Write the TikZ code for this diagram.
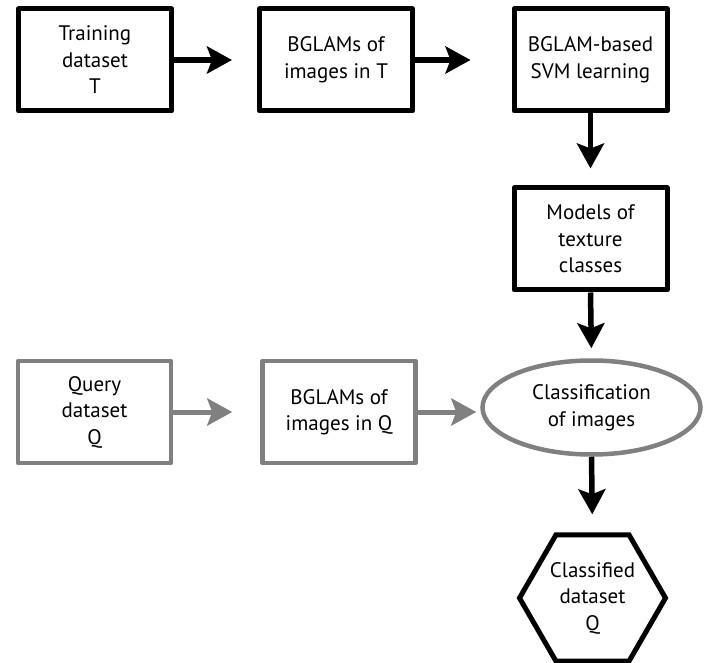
\documentclass[tikz,border=0pt]{standalone}
\usepackage{fontspec}
\setmainfont{PT Sans}
\usetikzlibrary{shapes.geometric,arrows.meta}
\definecolor{gr}{HTML}{808080}
\tikzset{
  x=1pt,y=-1pt,
  txt/.style={font=\fontsize{21}{26.5}\selectfont, align=center, text=black},
  bx/.style={txt, draw, line width=5pt, line join=round, rectangle, minimum width=153pt, minimum height=102pt, inner sep=0pt},
  gbx/.style={bx, draw=gr, line width=4.5pt},
  ar/.style={line width=5.5pt, -{Stealth[length=25pt,width=27pt,inset=5pt]}},
  gar/.style={ar, draw=gr, line width=5pt}
}
\begin{document}
\begin{tikzpicture}
\useasboundingbox (0,0) rectangle (710,663);
\node[bx] (train) at (95,60) {Training\\dataset\\T};
\node[bx] (bglT) at (336,60) {BGLAMs of\\images in T};
\node[bx] (svm) at (590.5,60) {BGLAM-based\\SVM learning};
\node[bx] (models) at (590.5,239) {Models of\\texture\\classes};
\node[gbx] (query) at (94.5,412) {Query\\dataset\\Q};
\node[gbx] (bglQ) at (339,412) {BGLAMs of\\images in Q};
\node[txt, ellipse, draw=gr, line width=4.5pt, minimum width=218pt, minimum height=94pt, inner sep=0pt] (classif) at (591.5,407.5) {Classification\\of images};
\node[txt, regular polygon, regular polygon sides=6, draw, line width=5pt, minimum size=146pt, inner sep=0pt] (hex) at (592.5,598) {Classified\\dataset\\Q};
\draw[ar, shorten >=25pt] (train.east) -- (bglT.west);
\draw[ar, shorten >=41pt] (bglT.east) -- (svm.west);
\draw[ar, shorten >=17pt] (svm.south) -- (models.north);
\draw[ar, shorten >=10pt] (models.south) -- (classif.north);
\draw[gar, shorten >=28pt] (query.east) -- (bglQ.west);
\draw[gar, shorten >=4pt] (bglQ.east) -- (classif.west |- bglQ.east);
\draw[ar, shorten >=18pt] (classif.south) -- (hex.north);
\end{tikzpicture}
\end{document}
